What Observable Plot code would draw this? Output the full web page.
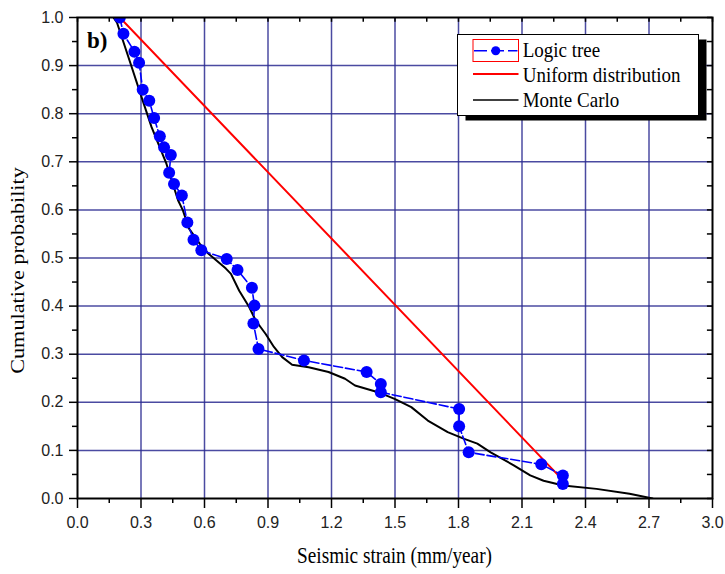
<!DOCTYPE html>
<html>
<head>
<meta charset="utf-8">
<script src="https://cdn.jsdelivr.net/npm/d3@7"></script>
<script src="https://cdn.jsdelivr.net/npm/@observablehq/plot@0.6"></script>
<style>
  html, body { margin: 0; padding: 0; background: #fff; }
  #chart svg { display: block; }
</style>
</head>
<body>
<div id="chart"></div>
<script>
// ---- data ----
const logicX = [0.200,0.217,0.269,0.291,0.308,0.339,0.362,0.389,0.409,0.441,0.433,0.456,0.493,0.519,0.548,0.585,0.705,0.756,0.824,0.836,0.831,0.855,1.070,1.366,1.433,1.433,1.803,1.803,1.848,2.191,2.293,2.293];
const logicY = [1.000,0.966,0.929,0.906,0.850,0.827,0.791,0.753,0.730,0.714,0.677,0.654,0.630,0.574,0.538,0.516,0.498,0.475,0.438,0.401,0.364,0.311,0.287,0.263,0.238,0.221,0.186,0.150,0.096,0.071,0.048,0.030];

const uniformX = [0.20, 2.30];
const uniformY = [1.00, 0.035];

const mcX = [0.170,0.186,0.256,0.303,0.350,0.420,0.475,0.498,0.527,0.577,0.616,0.701,0.725,0.764,0.811,0.842,0.889,0.928,0.967,1.014,1.092,1.186,1.264,1.311,1.420,1.498,1.577,1.655,1.749,1.827,1.889,1.952,2.061,2.139,2.202,2.295,2.452,2.608,2.717];
const mcY = [1.000,0.990,0.897,0.834,0.772,0.696,0.620,0.599,0.561,0.530,0.510,0.478,0.467,0.432,0.398,0.370,0.342,0.315,0.294,0.278,0.273,0.263,0.249,0.235,0.221,0.207,0.190,0.162,0.138,0.124,0.114,0.096,0.069,0.048,0.037,0.027,0.020,0.010,0.000];

const xMajor = [0,0.3,0.6,0.9,1.2,1.5,1.8,2.1,2.4,2.7,3.0];
const xMinor = [0.15,0.45,0.75,1.05,1.35,1.65,1.95,2.25,2.55,2.85];
const yMajor = [0,0.1,0.2,0.3,0.4,0.5,0.6,0.7,0.8,0.9,1.0];
const yMinor = [0.05,0.15,0.25,0.35,0.45,0.55,0.65,0.75,0.85,0.95];

const xLabel = "Seismic strain (mm/year)";
const yLabel = "Cumulative probability";
const panelLabel = "b)";
const seriesNames = ["Logic tree", "Uniform distribution", "Monte Carlo"];

// ---- build tables ----
const logic = logicX.map((x, i) => ({x, y: logicY[i]}));
const uniform = uniformX.map((x, i) => ({x, y: uniformY[i]}));
const mc = mcX.map((x, i) => ({x, y: mcY[i]}));
const xAll = xMajor.concat(xMinor);
const yAll = yMajor.concat(yMinor);

const gridColor = "#2a2a90";
const serif = "'Liberation Serif', 'Times New Roman', serif";
const sans = "'Liberation Sans', Arial, sans-serif";

const W = 725, H = 574;
const mL = 77, mR = 13, mT = 17, mB = 76;

const plot = Plot.plot({
  width: W, height: H,
  marginLeft: mL, marginRight: mR, marginTop: mT, marginBottom: mB,
  style: {background: "#fff", fontFamily: sans},
  x: {domain: [0, 3]},
  y: {domain: [0, 1]},
  marks: [
    Plot.gridX(xMajor.slice(1, -1), {stroke: gridColor, strokeOpacity: 0.85, strokeWidth: 1.5}),
    Plot.gridY(yMajor.slice(1, -1), {stroke: gridColor, strokeOpacity: 0.85, strokeWidth: 1.5}),
    // bottom axis
    Plot.axisX({anchor: "bottom", ticks: xMajor, tickSize: 10, tickPadding: 8, tickFormat: d3.format(".1f"),
      fontSize: 16, fill: "#222", stroke: "#000", strokeWidth: 1.5, label: null, ariaLabel: "xmajor"}),
    Plot.axisX({anchor: "bottom", ticks: xMinor, tickSize: 5, tickFormat: () => "", stroke: "#000", strokeWidth: 1.5, label: null}),
    // left axis
    Plot.axisY({anchor: "left", ticks: yMajor, tickSize: 8, tickPadding: 6, tickFormat: d3.format(".1f"),
      fontSize: 16, fill: "#222", stroke: "#000", strokeWidth: 1.5, label: null, ariaLabel: "ymajor"}),
    Plot.axisY({anchor: "left", ticks: yMinor, tickSize: 5, tickFormat: () => "", stroke: "#000", strokeWidth: 1.5, label: null}),
    // inward ticks on top and right
    Plot.ruleX(xAll, {x: d => d, y1: 1, y2: 0.99, stroke: "#000", strokeWidth: 1.5}),
    Plot.ruleY(yAll, {y: d => d, x1: 3, x2: 2.976, stroke: "#000", strokeWidth: 1.5}),
    // series
    Plot.line(uniform, {x: "x", y: "y", stroke: "#ff0000", strokeWidth: 2, clip: true}),
    Plot.line(mc, {x: "x", y: "y", stroke: "#000", strokeWidth: 2, curve: "linear", clip: true}),
    Plot.line(logic, {x: "x", y: "y", stroke: "#0000ff", strokeWidth: 1.6, strokeDasharray: "9,3", clip: true}),
    Plot.dot(logic, {x: "x", y: "y", r: 6, fill: "#0000ff", stroke: "none", clip: true}),
    Plot.frame({stroke: "#000", strokeWidth: 2})
  ]
});

document.getElementById("chart").appendChild(plot);

// vertically stretch tick labels slightly, as in the reference
d3.select(plot).selectAll("g[aria-label='xmajor'] text, g[aria-label='ymajor'] text").each(function () {
  const t = this.getAttribute("transform") || "";
  this.setAttribute("transform", t + " scale(1,1.12)");
});

// ---- annotations: axis titles, panel label, legend ----
const svg = d3.select(plot);
const xs = plot.scale("x"), ys = plot.scale("y");
const cx = (xs.apply(0) + xs.apply(3)) / 2;
const cy = (ys.apply(0) + ys.apply(1)) / 2;

svg.append("text").attr("transform", `translate(${cx},563) scale(1,1.17)`)
  .attr("text-anchor", "middle").attr("font-family", serif).attr("font-size", 19.3).attr("fill", "#000")
  .text(xLabel);
svg.append("text").attr("transform", `translate(24,${cy + 13}) rotate(-90) scale(1.17,1)`)
  .attr("text-anchor", "middle").attr("font-family", serif).attr("font-size", 19).attr("fill", "#000")
  .text(yLabel);
svg.append("text").attr("x", 87).attr("y", 48).attr("text-anchor", "start")
  .attr("font-family", serif).attr("font-size", 23).attr("font-weight", "bold").attr("fill", "#000")
  .text(panelLabel);

// legend
const lg = svg.append("g");
const bx = 457.5, by = 34.5, bw = 241, bh = 81;
lg.append("rect").attr("x", bx + 8).attr("y", by + 5).attr("width", bw).attr("height", bh).attr("fill", "#000");
lg.append("rect").attr("x", bx).attr("y", by).attr("width", bw).attr("height", bh)
  .attr("fill", "#fff").attr("stroke", "#000").attr("stroke-width", 1);
const rowY = [50.7, 74, 100];
const baseY = [57.3, 81.7, 106.7];
const lx1 = 473, lx2 = 518.5, tx = 522.7;
// Logic tree symbol with selection box
lg.append("rect").attr("x", lx1).attr("y", 39.5).attr("width", lx2 - lx1).attr("height", 22)
  .attr("fill", "none").attr("stroke", "#ff0000").attr("stroke-width", 1);
lg.append("line").attr("x1", lx1 + 1).attr("x2", lx2 - 1).attr("y1", rowY[0]).attr("y2", rowY[0])
  .attr("stroke", "#0000ff").attr("stroke-width", 1.6).attr("stroke-dasharray", "13,4");
lg.append("circle").attr("cx", (lx1 + lx2) / 2).attr("cy", rowY[0]).attr("r", 4.5).attr("fill", "#0000ff");
lg.append("line").attr("x1", lx1).attr("x2", lx2).attr("y1", rowY[1]).attr("y2", rowY[1])
  .attr("stroke", "#ff0000").attr("stroke-width", 2);
lg.append("line").attr("x1", lx1).attr("x2", lx2).attr("y1", rowY[2]).attr("y2", rowY[2])
  .attr("stroke", "#000").attr("stroke-width", 1.5);
seriesNames.forEach((name, i) => {
  lg.append("text").attr("transform", `translate(${tx},${baseY[i]}) scale(1,1.1)`)
    .attr("text-anchor", "start")
    .attr("font-family", serif).attr("font-size", 19).attr("fill", "#000").text(name);
});
</script>
</body>
</html>
